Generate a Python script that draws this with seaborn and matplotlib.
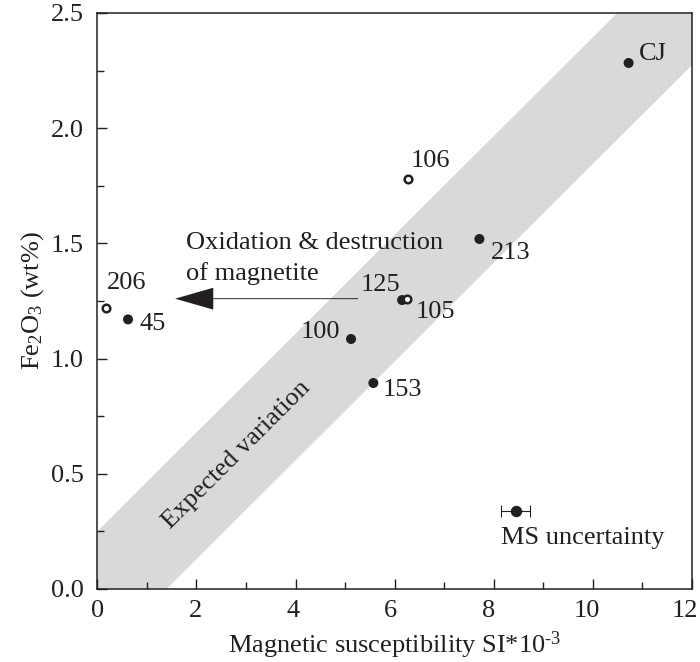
import numpy as np
import pandas as pd
import matplotlib
matplotlib.use("Agg")
import matplotlib.pyplot as plt
import matplotlib.transforms as mtransforms
from matplotlib.ticker import MultipleLocator, FormatStrFormatter
import seaborn as sns

# Sample measurements: magnetic susceptibility (SI*10^-3) vs Fe2O3 (wt%)
samples = ["CJ", "106", "213", "206", "45", "100", "153", "125", "105"]
ms_si = [10.72, 6.27, 7.71, 0.17, 0.62, 5.12, 5.57, 6.15, 6.25]
fe2o3 = [2.283, 1.78, 1.519, 1.22, 1.17, 1.085, 0.894, 1.254, 1.258]
hollow = [False, True, False, True, False, False, False, False, True]

# label offsets (points) and horizontal alignment for each sample name
label_dx = [7.2, 2.0, 8.0, 0.5, 8.0, -8.0, 7.0, -1.5, 6.0]
label_dy = [6.5, 13.0, -10.0, 18.0, -3.5, 5.0, -5.0, 10.5, -9.5]
label_ha = ["left", "left", "left", "left", "left", "right", "left", "right", "left"]

# expected-variation band (lower and upper edges across the x range)
band_x = [0.0, 12.0]
band_lower = [-0.30, 2.274]
band_upper = [0.25, 2.824]

# typical measurement uncertainty marker
unc_ms, unc_fe, unc_err = 8.44, 0.34, 0.30

df = pd.DataFrame({"sample": samples, "ms": ms_si, "fe": fe2o3, "hollow": hollow})

sns.set_theme(style="ticks")
plt.rcParams["font.family"] = ["Liberation Serif", "DejaVu Serif"]
plt.rcParams["mathtext.fontset"] = "custom"
plt.rcParams["mathtext.rm"] = "Liberation Serif"
plt.rcParams["mathtext.it"] = "Liberation Serif:italic"
plt.rcParams["mathtext.bf"] = "Liberation Serif:bold"

FS = 19
ink = "#231f20"

fig = plt.figure(figsize=(7.0, 6.62), dpi=100)
ax = fig.add_axes([0.139, 0.1103, 0.8496, 0.8701])

ax.fill_between(band_x, band_lower, band_upper, color="#d9d9d9", lw=0, zorder=0)
ax.text(2.8, 0.58, "Expected variation", rotation=45, rotation_mode="anchor",
        ha="center", va="center", fontsize=FS, color=ink, zorder=1)

solid = df[~df["hollow"]]
opens = df[df["hollow"]]
sns.scatterplot(data=solid, x="ms", y="fe", ax=ax, color=ink, s=52,
                edgecolor="none", zorder=3, legend=False)
sns.scatterplot(data=opens, x="ms", y="fe", ax=ax, facecolor="white",
                edgecolor=ink, linewidth=1.8, s=30, zorder=4, legend=False)

for name, x, y, dx, dy, ha in zip(samples, ms_si, fe2o3, label_dx, label_dy, label_ha):
    ax.annotate(name, (x, y), xytext=(dx, dy), textcoords="offset points",
                ha=ha, va="center", fontsize=FS, color=ink, zorder=5)

# oxidation trend arrow
ax.arrow(5.26, 1.26, 1.57 - 5.26, 0.0, width=0.004, head_width=0.095,
         head_length=0.77, length_includes_head=True, fc=ink, ec="none", zorder=2)
ax.text(1.79, 1.50, "Oxidation & destruction", ha="left", va="center",
        fontsize=FS, color=ink)
ax.text(1.79, 1.369, "of magnetite", ha="left", va="center",
        fontsize=FS, color=ink)

# uncertainty marker
ax.errorbar([unc_ms], [unc_fe], xerr=[unc_err], fmt="o", color=ink, ms=7.2,
            elinewidth=0.8, capsize=4, capthick=0.8, zorder=4)
ax.text(unc_ms - 0.30, unc_fe - 0.12, "MS uncertainty", ha="left", va="center",
        fontsize=FS, color=ink)

ax.set_xlim(0, 12)
ax.set_ylim(0, 2.5)
ax.xaxis.set_major_locator(MultipleLocator(2))
ax.xaxis.set_minor_locator(MultipleLocator(1))
ax.yaxis.set_major_locator(MultipleLocator(0.5))
ax.yaxis.set_minor_locator(MultipleLocator(0.25))
ax.yaxis.set_major_formatter(FormatStrFormatter("%.1f"))
ax.tick_params(which="major", direction="in", length=7, width=1.0, color=ink,
               labelsize=FS, labelcolor=ink)
ax.tick_params(which="minor", direction="in", length=5, width=1.0, color=ink)
ax.tick_params(axis="x", which="both", top=False, pad=8)
ax.tick_params(axis="y", which="both", right=False, pad=10)
for side in ["left", "right", "top", "bottom"]:
    ax.spines[side].set_visible(True)
    ax.spines[side].set_linewidth(1.1)
    ax.spines[side].set_color(ink)

# x tick labels drift slightly left so the last one stays inside the figure
fig.canvas.draw()
for tick in ax.xaxis.get_major_ticks():
    shift = -0.45 * tick.get_loc() / 72.0
    off = mtransforms.ScaledTranslation(shift, 0, fig.dpi_scale_trans)
    tick.label1.set_transform(tick.label1.get_transform() + off)

ax.set_xlabel(r"Magnetic susceptibility SI*10$^{\text{-3}}$", fontsize=FS,
              color=ink, labelpad=5)
ax.set_ylabel(r"Fe$_{\mathregular{2}}$O$_{\mathregular{3}}$ (wt%)", fontsize=FS,
              color=ink, labelpad=3)

fig.savefig("out.png", dpi=100)
